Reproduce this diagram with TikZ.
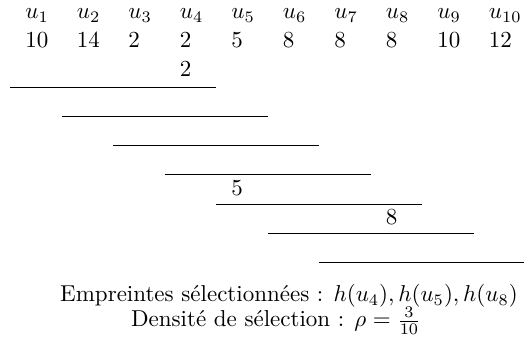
\documentclass[tikz,border=0pt]{standalone}
\usepackage{tikz}
\usetikzlibrary{positioning}

\begin{document}
\begin{tikzpicture}[x=0.435pt, y=-0.435pt, every node/.style={inner sep=0pt}]
    % Styles for cells and windows
    \tikzstyle{cell} = [anchor=base west]
    \tikzstyle{window} = [line width=0.4pt]
    \useasboundingbox (0,0) rectangle (524,354);

    % Elements and their hash values
    \foreach \i/\v in {1/10,2/14,3/2,4/2,5/5,6/8,7/8,8/8,9/10,10/12} {
        \node (name\i) [cell] at ({25+51.5*(\i-1)}, 19) {$u_{\i}$};
        \node (val\i) [cell] at ({25+51.5*(\i-1)}, 48) {\v};
    }

    % Sliding windows of width 4
    \foreach \k in {1,...,7} {
        \coordinate (ws\k) at ({10+51.5*(\k-1)}, {87+29.3*(\k-1)});
        \coordinate (we\k) at ({216+51.5*(\k-1)}, {87+29.3*(\k-1)});
        \draw [window] (ws\k) -- (we\k);
    }

    % Selected minima
    \node (min1) [cell] at ({25+51.5*3}, 77) {2};
    \node (min5) [cell] at ({25+51.5*4}, 196) {5};
    \node (min6) [cell] at ({25+51.5*7}, 225) {8};

    % Summary
    \node (chosen) [anchor=base] at (289, 302) {Empreintes sélectionnées : $h(u_4), h(u_5), h(u_8)$};
    \node (density) [anchor=base] at (276, 327) {Densité de sélection : $\rho = \frac{3}{10}$};
\end{tikzpicture}
\end{document}
